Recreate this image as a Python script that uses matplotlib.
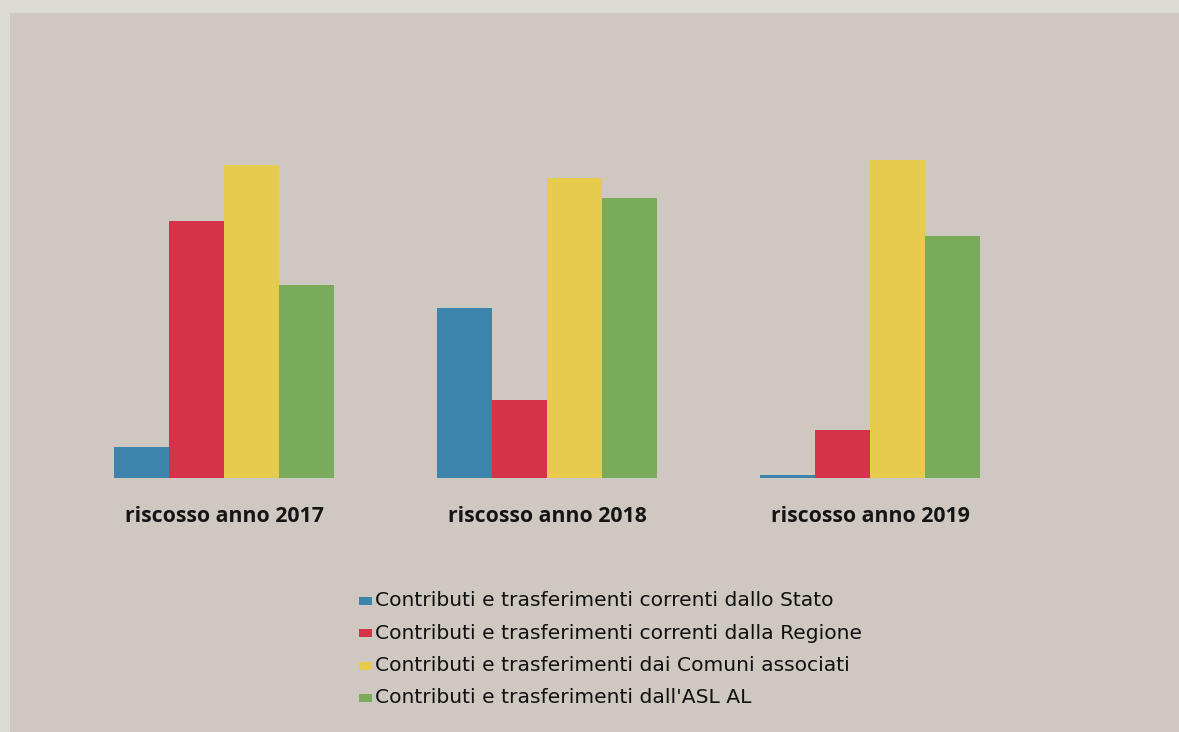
import numpy as np
import matplotlib
matplotlib.use("Agg")
import matplotlib.pyplot as plt
from matplotlib.patches import Rectangle

# Dati (valori relativi, senza asse numerico)
anni = ["riscosso anno 2017", "riscosso anno 2018", "riscosso anno 2019"]
stato = [31, 170, 3]
regione = [257, 78, 48]
comuni = [313, 300, 318]
asl = [193, 280, 242]

serie = [
    ("Contributi e trasferimenti correnti dallo Stato", stato, "#3d84ad"),
    ("Contributi e trasferimenti correnti dalla Regione", regione, "#d5334a"),
    ("Contributi e trasferimenti dai Comuni associati", comuni, "#e6cb4e"),
    ("Contributi e trasferimenti dall'ASL AL", asl, "#79ab5a"),
]

W, H = 1179, 732
fig = plt.figure(figsize=(W / 100, H / 100), dpi=100)
fig.patch.set_facecolor("#dbdad3")

# riquadro interno
fig.patches.append(Rectangle((10 / W, 0), 1, 1 - 13 / H, transform=fig.transFigure,
                             facecolor="#cfc8c1", edgecolor="none", zorder=-5))

ax = fig.add_axes([0, 0, 1, 1])
ax.set_facecolor("none")
# una unità di categoria = 323 px, base delle barre a 478 px dall'alto
ax.set_xlim(-224 / 323, (W - 224) / 323)
ax.set_ylim(-(H - 478), 478)
ax.axis("off")

x = np.arange(len(anni))
larghezza = 0.17
for i, (nome, valori, colore) in enumerate(serie):
    ax.bar(x + (i - 1.5) * larghezza, valori, width=larghezza, color=colore,
           label=nome, zorder=3)

for xi, testo in zip(x, anni):
    ax.text(xi, -39, testo, ha="center", va="center", fontsize=15.3,
            fontweight="bold", family="Open Sans", color="#151515")

# legenda a colonna sotto il grafico
for i, (nome, valori, colore) in enumerate(serie):
    y = 601 + i * 32.3
    fig.patches.append(Rectangle((359 / W, 1 - (y + 4) / H), 13 / W, 8 / H,
                                 transform=fig.transFigure, facecolor=colore,
                                 edgecolor="none", zorder=4))
    fig.text(375 / W, 1 - y / H, nome, ha="left", va="center", fontsize=14.6,
             family="DejaVu Sans", color="#111111")

fig.savefig("out.png", dpi=100, facecolor=fig.get_facecolor())
